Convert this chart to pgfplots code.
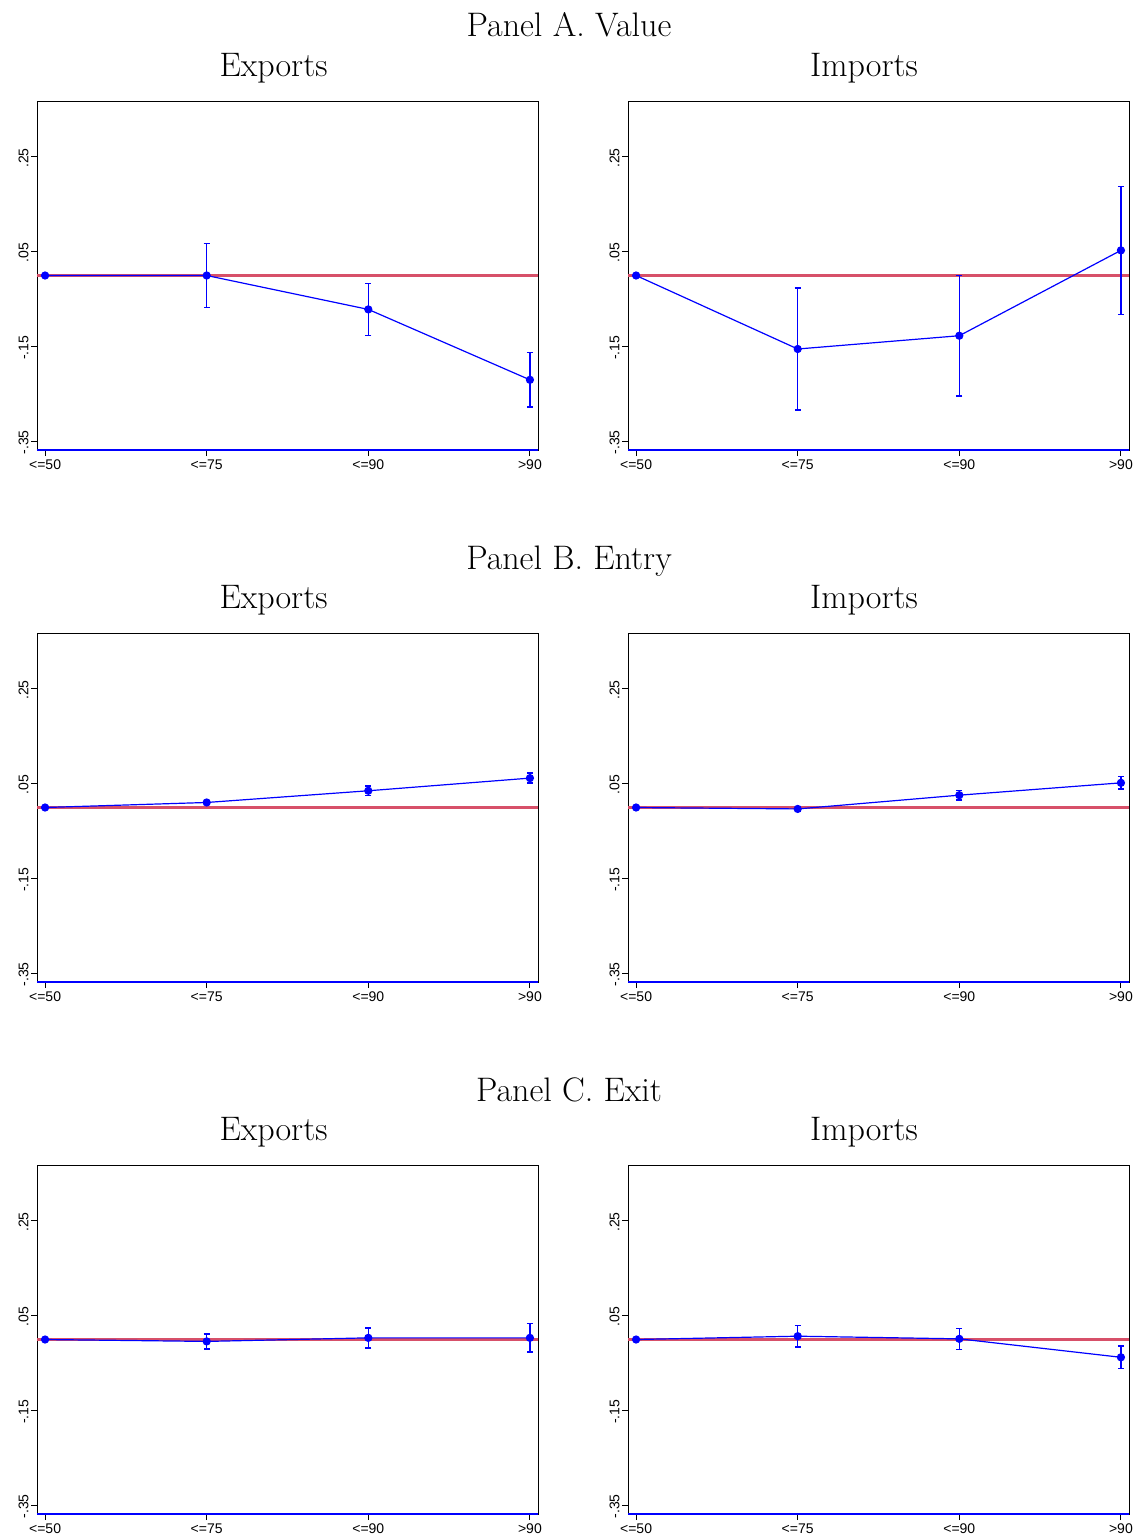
\documentclass[border=0pt]{standalone}
\usepackage{pgfplots}
\pgfplotsset{compat=1.18}
\usepackage{fontspec}
\newfontfamily\tickfont{Liberation Sans}
\definecolor{refred}{RGB}{215,80,105}
\pgfplotsset{
  panel/.style={
    width=250.5pt, height=174.5pt, scale only axis,
    anchor=north west,
    xmin=-0.05, xmax=3.05, ymin=-0.368, ymax=0.368,
    xtick={0,1,2,3}, xticklabels={{<=50},{<=75},{<=90},{>90}},
    ytick={-0.35,-0.15,0.05,0.25}, yticklabels={{-.35},{-.15},{.05},{.25}},
    tick align=outside, xtick pos=bottom, ytick pos=left,
    major tick length=3pt,
    tick style={black, line width=0.5pt},
    ticklabel style={font=\tickfont\fontsize{7}{8}\selectfont},
    xticklabel style={inner sep=1pt, yshift=-0.5pt},
    yticklabel style={rotate=90, anchor=south, inner sep=1pt, xshift=-0.5pt},
    axis line style={black, line width=0.5pt},
    clip=false,
  },
}
\newcommand{\ptitle}{\fontsize{17}{20}\selectfont}
\newcommand{\series}[1]{%
  \addplot[blue, line width=0.6pt, mark=*, mark size=1.75pt,
    mark options={fill=blue, draw=blue},
    error bars/.cd, y dir=both, y explicit,
    error bar style={blue, line width=0.75pt},
    error mark options={blue, rotate=90, mark size=1.5pt, line width=0.75pt}]
    coordinates {#1};}
\newcommand{\zeroline}{\addplot[refred, line width=1.2pt, no marks] coordinates {(-0.05,0) (3.05,0)};}
\newcommand{\bluebottom}{\draw[blue, line width=0.8pt] (rel axis cs:0,0) -- (rel axis cs:1,0);}
\begin{document}
\begin{tikzpicture}
\path[use as bounding box] (0,0) rectangle (567.5pt,-768pt);
% titles
\node[anchor=base, font=\ptitle] at (284.5pt,-18.5pt) {Panel A. Value};
\node[anchor=base, font=\ptitle] at (136.75pt,-38pt) {Exports};
\node[anchor=base, font=\ptitle] at (432pt,-38pt) {Imports};
\node[anchor=base, font=\ptitle] at (284.5pt,-284.5pt) {Panel B. Entry};
\node[anchor=base, font=\ptitle] at (136.75pt,-304pt) {Exports};
\node[anchor=base, font=\ptitle] at (432pt,-304pt) {Imports};
\node[anchor=base, font=\ptitle] at (284.5pt,-550.5pt) {Panel C. Exit};
\node[anchor=base, font=\ptitle] at (136.75pt,-570pt) {Exports};
\node[anchor=base, font=\ptitle] at (432pt,-570pt) {Imports};

% Panel A exports
\begin{axis}[panel, at={(18.5pt,-50.5pt)}]
\zeroline
\series{(0,0) +- (0,0) (1,0) +- (0,0.067) (2,-0.0715) +- (0,0.055) (3,-0.220) +- (0,0.0575)}
\bluebottom
\end{axis}
% Panel A imports
\begin{axis}[panel, at={(314pt,-50.5pt)}]
\zeroline
\series{(0,0) +- (0,0) (1,-0.155) +- (0,0.129) (2,-0.127) +- (0,0.127) (3,0.053) +- (0,0.135)}
\bluebottom
\end{axis}
% Panel B exports
\begin{axis}[panel, at={(18.5pt,-316.5pt)}]
\zeroline
\series{(0,0) +- (0,0.003) (1,0.0106) +- (0,0.004) (2,0.0353) +- (0,0.0099) (3,0.062) +- (0,0.0106)}
\bluebottom
\end{axis}
% Panel B imports
\begin{axis}[panel, at={(314pt,-316.5pt)}]
\zeroline
\series{(0,0) +- (0,0.002) (1,-0.003) +- (0,0.004) (2,0.026) +- (0,0.010) (3,0.052) +- (0,0.013)}
\bluebottom
\end{axis}
% Panel C exports
\begin{axis}[panel, at={(18.5pt,-582.5pt)}]
\zeroline
\series{(0,0) +- (0,0) (1,-0.004) +- (0,0.016) (2,0.0035) +- (0,0.021) (3,0.0035) +- (0,0.030)}
\bluebottom
\end{axis}
% Panel C imports
\begin{axis}[panel, at={(314pt,-582.5pt)}]
\zeroline
\series{(0,0) +- (0,0) (1,0.007) +- (0,0.023) (2,0.0014) +- (0,0.022) (3,-0.0375) +- (0,0.024)}
\bluebottom
\end{axis}
\end{tikzpicture}
\end{document}
